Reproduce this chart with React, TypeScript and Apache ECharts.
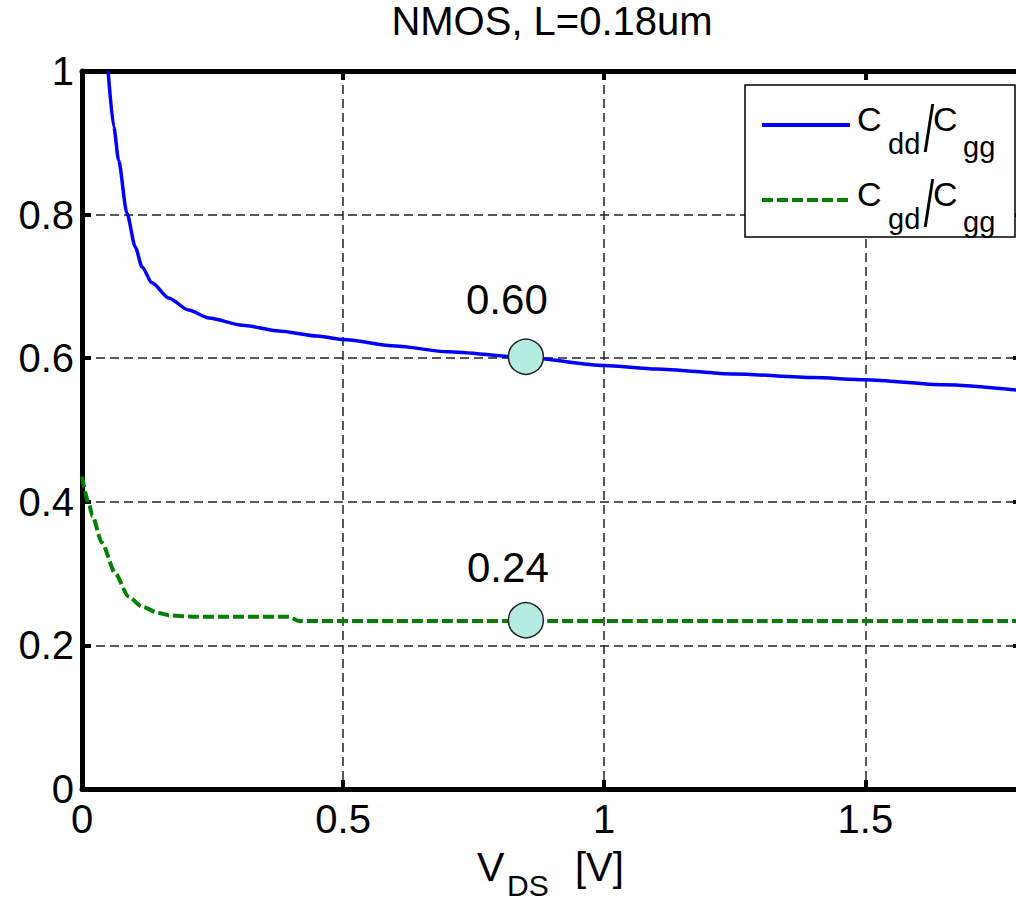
import React, { useEffect, useRef } from "react";
import * as echarts from "echarts";

const titleText = "NMOS, L=0.18um";

const cddX = [0.05, 0.061, 0.07, 0.086, 0.102, 0.115, 0.134, 0.166, 0.204, 0.243, 0.307, 0.377, 0.45, 0.5, 0.6, 0.7, 0.85, 1.0, 1.1, 1.25, 1.4, 1.5, 1.65, 1.8];
const cddY = [1.0, 0.922, 0.876, 0.802, 0.755, 0.727, 0.705, 0.684, 0.667, 0.656, 0.646, 0.638, 0.631, 0.626, 0.617, 0.609, 0.601, 0.59, 0.585, 0.578, 0.573, 0.57, 0.563, 0.555];

const cgdX = [0.0, 0.013, 0.02, 0.038, 0.064, 0.089, 0.115, 0.147, 0.166, 0.211, 0.3, 0.396, 0.415, 0.6, 1.0, 1.3, 1.8];
const cgdY = [0.435, 0.398, 0.38, 0.343, 0.3, 0.268, 0.254, 0.245, 0.242, 0.24, 0.24, 0.24, 0.234, 0.234, 0.234, 0.234, 0.234];

const markerX = [0.85, 0.85];
const markerY = [0.602, 0.235];
const markerLabels = ["0.60", "0.24"];

const xTickInterval = 0.5;
const yTickInterval = 0.2;

const FONT = '"Liberation Sans", Arial, sans-serif';

function txt(text: string, x: number, y: number, size: number, extra: any = {}) {
  return {
    type: "text",
    x,
    y,
    z: 100,
    ...extra,
    style: {
      text,
      x: 0,
      y: 0,
      font: `${size}px ${FONT}`,
      fill: "#000",
      textAlign: extra.align || "left",
      textVerticalAlign: "middle",
      align: extra.align || "left",
      verticalAlign: "middle",
    },
  };
}

export default function App() {
  const ref = useRef<HTMLDivElement>(null);
  useEffect(() => {
    const chart = echarts.init(ref.current!, null, { renderer: "svg" });
    const axisLine = { show: true, onZero: false, lineStyle: { color: "#000", width: 5 } };
    const tick = { show: true, inside: true, length: 9, lineStyle: { color: "#000", width: 4 } };
    const split = { show: true, lineStyle: { type: [9, 5], color: "#222", width: 1.5 } };
    const label = { fontSize: 40, fontFamily: FONT, color: "#000" };

    const legendRows = [
      { y: 118.5, sub1: "dd", color: "#0000ff", dash: null as any },
      { y: 193.5, sub1: "gd", color: "#008000", dash: [11, 4] },
    ];
    const legendEls: any[] = [
      {
        type: "rect",
        z: 99,
        shape: { x: 745, y: 85, width: 270, height: 152 },
        style: { fill: "#fff", stroke: "#000", lineWidth: 1.5 },
      },
    ];
    legendRows.forEach((r) => {
      legendEls.push({
        type: "line",
        z: 100,
        shape: { x1: 762, y1: r.y + 6.5, x2: 850, y2: r.y + 6.5 },
        style: { stroke: r.color, lineWidth: 4, lineDash: r.dash || undefined },
      });
      legendEls.push(txt("C", 857, r.y, 34));
      legendEls.push(txt(r.sub1, 888, r.y + 25, 29));
      legendEls.push(txt("/", 929, r.y + 10, 34, { align: "center", scaleX: 1.1, scaleY: 1.9 }));
      legendEls.push(txt("C", 933, r.y, 34));
      legendEls.push(txt("gg", 963, r.y + 28, 29));
    });

    const option: any = {
      animation: false,
      backgroundColor: "#fff",
      grid: { left: 82, top: 71, right: 18, bottom: 114, containLabel: false },
      xAxis: [
        {
          type: "value",
          min: 0,
          max: 1.8,
          interval: xTickInterval,
          position: "bottom",
          axisLine,
          axisTick: tick,
          axisLabel: { ...label, margin: 30, verticalAlign: "middle", showMaxLabel: false },
          splitLine: split,
        },
        {
          type: "value",
          min: 0,
          max: 1.8,
          interval: xTickInterval,
          position: "top",
          axisLine,
          axisTick: tick,
          axisLabel: { show: false },
          splitLine: { show: false },
        },
      ],
      yAxis: [
        {
          type: "value",
          min: 0,
          max: 1,
          interval: yTickInterval,
          position: "left",
          axisLine,
          axisTick: tick,
          axisLabel: { ...label, margin: 8 },
          splitLine: split,
        },
        {
          type: "value",
          min: 0,
          max: 1,
          interval: yTickInterval,
          position: "right",
          axisLine,
          axisTick: tick,
          axisLabel: { show: false },
          splitLine: { show: false },
        },
      ],
      series: [
        {
          name: "Cdd/Cgg",
          type: "line",
          xAxisIndex: 0,
          yAxisIndex: 0,
          data: cddX.map((x, i) => [x, cddY[i]]),
          showSymbol: false,
          smooth: 0.25,
          smoothMonotone: "x",
          lineStyle: { color: "#0000ff", width: 3.5 },
          z: 3,
        },
        {
          name: "Cgd/Cgg",
          type: "line",
          xAxisIndex: 0,
          yAxisIndex: 0,
          data: cgdX.map((x, i) => [x, cgdY[i]]),
          showSymbol: false,
          smooth: 0.25,
          smoothMonotone: "x",
          lineStyle: { color: "#008000", width: 4, type: [11, 4] },
          z: 3,
        },
        {
          type: "scatter",
          xAxisIndex: 0,
          yAxisIndex: 0,
          data: markerX.map((x, i) => ({
            value: [x, markerY[i]],
            label: {
              show: true,
              position: "inside",
              formatter: markerLabels[i],
              offset: i === 0 ? [-19, -57] : [-18, -53],
              fontSize: 42,
              fontFamily: FONT,
              color: "#000",
            },
          })),
          symbol: "circle",
          symbolSize: 35,
          itemStyle: { color: "#b5ece2", borderColor: "#222", borderWidth: 1.5, opacity: 1 },
          z: 5,
        },
      ],
      graphic: [
        txt(titleText, 552, 21, 40, { align: "center" }),
        txt("V", 477, 867, 41),
        txt("DS", 507, 885, 30),
        txt("[V]", 575, 867, 40),
        ...legendEls,
      ],
    };
    chart.setOption(option);
    return () => chart.dispose();
  }, []);
  return (
    <div
      style={{
        position: "fixed",
        left: 0,
        top: 0,
        width: 1016,
        height: 903,
        overflow: "hidden",
        background: "#fff",
      }}
    >
      <div ref={ref} style={{ width: 1040, height: 903 }} />
    </div>
  );
}
